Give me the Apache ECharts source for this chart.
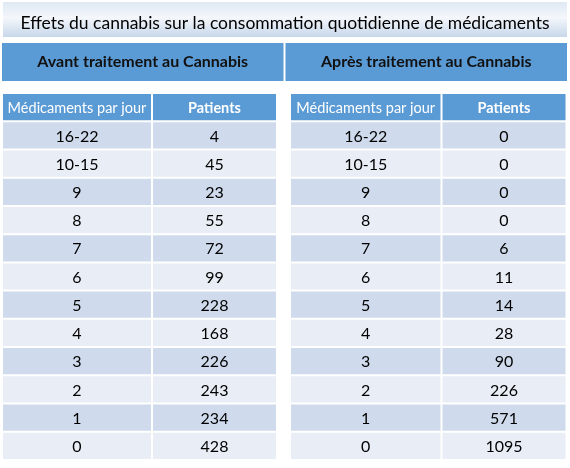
<!DOCTYPE html>
<html>
<head>
<meta charset="utf-8">
<script src="https://cdn.jsdelivr.net/npm/echarts@6/dist/echarts.min.js"></script>
<style>
html, body { margin: 0; padding: 0; background: #fff; }
#main { width: 570px; height: 468px; }
</style>
</head>
<body>
<div id="main"></div>
<script>
var chartTitle = 'Effets du cannabis sur la consommation quotidienne de médicaments';
var panelTitles = ['Avant traitement au Cannabis', 'Après traitement au Cannabis'];
var colHeaders = ['Médicaments par jour', 'Patients'];
var rowLabels = ['16-22', '10-15', '9', '8', '7', '6', '5', '4', '3', '2', '1', '0'];
var patientsBefore = [4, 45, 23, 55, 72, 99, 228, 168, 226, 243, 234, 428];
var patientsAfter = [0, 0, 0, 0, 6, 11, 14, 28, 90, 226, 571, 1095];

var FONT = 'Lato, "Open Sans", sans-serif';
var BLUE = '#5b9bd5';
var ROW_DARK = '#cfdbec';
var ROW_LIGHT = '#e9eef6';

// lignes du tableau : 0 = en-tete, puis les donnees
var rowIdx = [];
for (var i = 0; i <= rowLabels.length; i++) rowIdx.push(i);

var myChart = echarts.init(document.getElementById('main'));

// une colonne de tableau = une grille, une categorie en x, 13 en y
function colSeries(grid, header, headBold, values) {
	var texts = [header].concat(values.map(function(v) { return String(v); }));
	var data = texts.map(function(t, k) { return [0, k]; });
	return {
		type: 'custom',
		xAxisIndex: grid,
		yAxisIndex: grid,
		silent: true,
		data: data,
		renderItem: function(params, api) {
			var r = api.value(1);
			var c = api.coord([api.value(0), r]);
			var s = api.size([1, 1]);
			var isHead = r === 0;
			var fill = isHead ? BLUE : (r % 2 === 1 ? ROW_DARK : ROW_LIGHT);
			return {
				type: 'group',
				children: [{
					type: 'rect',
					shape: { x: c[0] - s[0] / 2 + 1, y: c[1] - s[1] / 2 + 1, width: s[0] - 2, height: s[1] - 2 },
					style: { fill: fill }
				}, {
					type: 'text',
					style: {
						x: c[0], y: c[1] + 1,
						text: texts[params.dataIndex],
						align: 'center', verticalAlign: 'middle',
						fill: isHead ? '#fff' : '#000',
						font: (isHead && headBold ? 'bold ' : '') + (isHead ? '14.5px ' : '16px ') + FONT
					}
				}]
			};
		}
	};
}

var grids = [
	{ left: 1, top: 43, width: 567, height: 38 },
	{ left: 2, top: 93, width: 150, height: 367 },
	{ left: 152, top: 93, width: 125, height: 367 },
	{ left: 290, top: 93, width: 151.5, height: 367 },
	{ left: 441.5, top: 93, width: 125, height: 367 }
];

var xAxes = [{ type: 'category', gridIndex: 0, data: [0, 1], show: false }];
var yAxes = [{ type: 'category', gridIndex: 0, data: [0], show: false }];
for (var g = 1; g < grids.length; g++) {
	xAxes.push({ type: 'category', gridIndex: g, data: [0], show: false });
	yAxes.push({ type: 'category', gridIndex: g, data: rowIdx, inverse: true, show: false });
}

var bandSeries = {
	type: 'custom',
	xAxisIndex: 0,
	yAxisIndex: 0,
	silent: true,
	data: [[0, 0], [1, 0]],
	renderItem: function(params, api) {
		var c = api.coord([api.value(0), 0]);
		var s = api.size([1, 1]);
		return {
			type: 'group',
			children: [{
				type: 'rect',
				shape: { x: c[0] - s[0] / 2 + 1, y: c[1] - s[1] / 2, width: s[0] - 2, height: s[1] },
				style: { fill: BLUE }
			}, {
				type: 'text',
				style: {
					x: c[0], y: c[1],
					text: panelTitles[params.dataIndex],
					align: 'center', verticalAlign: 'middle',
					fill: '#111',
					font: 'bold 16px ' + FONT
				}
			}]
		};
	}
};

var option = {
	animation: false,
	backgroundColor: '#fff',
	title: {
		text: chartTitle,
		left: 'center',
		top: 9,
		textStyle: { fontFamily: FONT, fontSize: 17.5, fontWeight: 'normal', color: '#000' }
	},
	graphic: [{
		type: 'rect',
		z: -1,
		shape: { x: 3, y: 2, width: 564, height: 35 },
		style: {
			fill: new echarts.graphic.LinearGradient(0, 0, 0, 1, [
				{ offset: 0, color: '#dfe8f3' },
				{ offset: 0.45, color: '#f4f7fb' },
				{ offset: 1, color: '#c7d7ea' }
			])
		}
	}],
	grid: grids,
	xAxis: xAxes,
	yAxis: yAxes,
	series: [
		bandSeries,
		colSeries(1, colHeaders[0], false, rowLabels),
		colSeries(2, colHeaders[1], true, patientsBefore),
		colSeries(3, colHeaders[0], false, rowLabels),
		colSeries(4, colHeaders[1], true, patientsAfter)
	]
};

myChart.setOption(option);
</script>
</body>
</html>
